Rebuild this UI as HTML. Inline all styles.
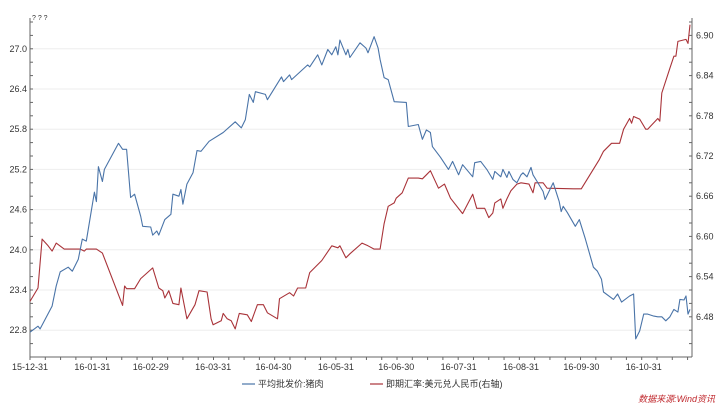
<!DOCTYPE html>
<html><head><meta charset="utf-8"><style>
body{margin:0;background:#fff;}
svg{display:block;font-family:"Liberation Sans","Noto Sans CJK SC",sans-serif;}
</style></head><body>
<svg id="chart" width="720" height="405"></svg>
<script>
const tickDays=[0,31,60,91,121,152,182,213,244,274,305];
const tickLabels=["15-12-31","16-01-31","16-02-29","16-03-31","16-04-30","16-05-31","16-06-30","16-07-31","16-08-31","16-09-30","16-10-31"];
const leftTicks=[22.8,23.4,24.0,24.6,25.2,25.8,26.4,27.0];
const rightTicks=[6.48,6.54,6.60,6.66,6.72,6.78,6.84,6.90];
const porkDays=[0,4,5,11,13,15,19,21,24,26,28,32,33,34,36,37,44,46,48,50,52,55,56,60,61,63,64,67,70,71,74,75,76,78,81,83,85,89,96,102,105,107,109,111,112,117,118,125,126,129,130,138,139,143,145,148,150,152,153,154,157,158,159,164,167,168,171,173,174,176,178,181,187,188,193,195,197,199,200,204,208,210,213,215,220,221,224,227,230,231,234,235,237,238,240,242,244,245,247,249,250,252,255,256,260,263,264,265,267,271,273,276,280,282,284,285,290,292,294,298,300,301,303,305,307,310,312,314,316,318,320,322,323,325,326,327,328];
const porkVals=[22.77,22.86,22.82,23.16,23.46,23.67,23.74,23.68,23.86,24.16,24.13,24.86,24.72,25.24,25.02,25.20,25.59,25.50,25.50,24.78,24.83,24.50,24.35,24.34,24.22,24.28,24.22,24.45,24.53,24.83,24.80,24.90,24.68,24.98,25.15,25.48,25.47,25.62,25.75,25.91,25.82,25.94,26.32,26.20,26.36,26.32,26.24,26.58,26.51,26.61,26.54,26.76,26.73,26.91,26.76,26.99,26.91,27.03,26.91,27.13,26.91,26.99,26.87,27.09,27.01,26.94,27.18,27.01,26.84,26.57,26.54,26.21,26.20,25.84,25.87,25.65,25.79,25.75,25.54,25.38,25.20,25.32,25.12,25.27,25.09,25.30,25.32,25.20,25.05,25.17,25.09,25.20,25.08,25.17,25.05,25.00,25.12,25.15,25.09,25.23,25.12,25.02,24.87,24.75,25.00,24.72,24.57,24.65,24.56,24.35,24.45,24.16,23.74,23.68,23.56,23.37,23.26,23.34,23.22,23.31,23.34,22.67,22.79,23.04,23.04,23.01,23.00,23.00,22.94,23.00,23.11,23.07,23.26,23.25,23.31,23.04,23.11];
const fxDays=[0,4,6,9,11,13,17,21,25,27,28,33,36,46,47,48,52,55,61,64,66,67,69,71,74,75,78,82,84,88,90,91,95,96,98,100,102,104,108,110,113,116,118,123,124,129,131,133,137,139,145,150,153,154,157,159,165,168,171,174,176,178,181,182,185,188,193,195,197,199,203,206,209,215,220,222,226,228,230,231,234,235,237,239,242,244,248,250,251,255,257,270,274,283,285,289,293,295,298,299,300,303,306,307,312,313,314,318,320,321,322,326,327,328];
const fxVals=[6.503,6.523,6.596,6.586,6.578,6.590,6.581,6.581,6.581,6.578,6.581,6.581,6.575,6.497,6.526,6.522,6.522,6.537,6.553,6.523,6.519,6.508,6.519,6.500,6.498,6.523,6.477,6.498,6.519,6.517,6.477,6.468,6.474,6.485,6.477,6.474,6.462,6.485,6.483,6.473,6.498,6.498,6.486,6.477,6.507,6.516,6.511,6.523,6.523,6.546,6.564,6.586,6.583,6.586,6.568,6.574,6.590,6.586,6.581,6.581,6.619,6.645,6.650,6.657,6.665,6.687,6.687,6.686,6.692,6.698,6.672,6.678,6.657,6.634,6.663,6.642,6.642,6.628,6.635,6.650,6.656,6.642,6.656,6.668,6.678,6.680,6.678,6.665,6.680,6.680,6.672,6.671,6.671,6.715,6.727,6.739,6.739,6.760,6.776,6.769,6.779,6.775,6.760,6.760,6.776,6.772,6.814,6.851,6.869,6.869,6.891,6.894,6.888,6.916];

const NS="http://www.w3.org/2000/svg";
const svg=document.getElementById('chart');
const X0=30,X1=692,YT=22,YB=357;
const xS=d=>X0+d*(X1-X0)/329;
const yL=v=>YB-(v-22.4)*(YB-YT)/5.0;
const yR=v=>YB-(v-6.42)*(YB-YT)/0.5;
function mk(tag,attrs,parent){const e=document.createElementNS(NS,tag);for(const k in attrs)e.setAttribute(k,attrs[k]);(parent||svg).appendChild(e);return e;}
function txt(x,y,s,anchor,size,fill,parent){const t=mk('text',{x:x,y:y,'text-anchor':anchor,'font-size':size,fill:fill},parent);t.textContent=s;return t;}

// gridlines
leftTicks.forEach(v=>{const g=mk('line',{x1:X0,x2:X1,y1:yL(v),y2:yL(v),stroke:'#eeeeee','stroke-width':1});

});

// axes
const ax=mk('g',{stroke:'#666','stroke-width':1});


mk('line',{x1:X0,x2:X0,y1:YT-4,y2:YB},ax);
mk('line',{x1:X1,x2:X1,y1:YT-4,y2:YB},ax);
mk('line',{x1:X0,x2:X1,y1:YB,y2:YB},ax);
for(let v=22.4;v<=27.41;v+=0.2){mk('line',{x1:X0,x2:X0+3,y1:yL(v),y2:yL(v)},ax);}
for(let v=6.42;v<=6.921;v+=0.02){mk('line',{x1:X1-3,x2:X1,y1:yR(v),y2:yR(v)},ax);}
for(let d=0;d<=329;d+=7.6){mk('line',{x1:xS(d),x2:xS(d),y1:YB,y2:YB+3},ax);}

leftTicks.forEach(v=>{const t=txt(X0-3,yL(v)+3,v.toFixed(1),'end',9,'#333');

});
rightTicks.forEach(v=>{const t=txt(X1+4,yR(v)+3,v.toFixed(2),'start',9,'#333');

});
tickDays.forEach((d,i)=>{const t=txt(xS(d),370,tickLabels[i],'middle',9,'#333');

});
const unit=txt(X0+2,20,'? ? ?','start',7,'#333');



function line(days,vals,ys,color,name){
  const p=mk('polyline',{points:days.map((d,i)=>xS(d).toFixed(1)+','+ys(vals[i]).toFixed(1)).join(' '),fill:'none',stroke:color,'stroke-width':1.1,'stroke-linejoin':'round'});
  
  
}
line(fxDays,fxVals,yR,'#a93339','series-usd-cny-rate');
line(porkDays,porkVals,yL,'#4a74a8','series-pork-price');

// legend
const lg=mk('g',{});


mk('line',{x1:242,x2:255,y1:384,y2:384,stroke:'#4a74a8','stroke-width':1.2},lg);
txt(258,387,'平均批发价:猪肉','start',9,'#333',lg);
mk('line',{x1:370,x2:383,y1:384,y2:384,stroke:'#a93339','stroke-width':1.2},lg);
txt(386,387,'即期汇率:美元兑人民币(右轴)','start',9,'#333',lg);

const src=txt(715,402,'数据来源:Wind资讯','end',9,'#c0282d');
src.setAttribute('font-style','italic');


</script>
</body></html>
